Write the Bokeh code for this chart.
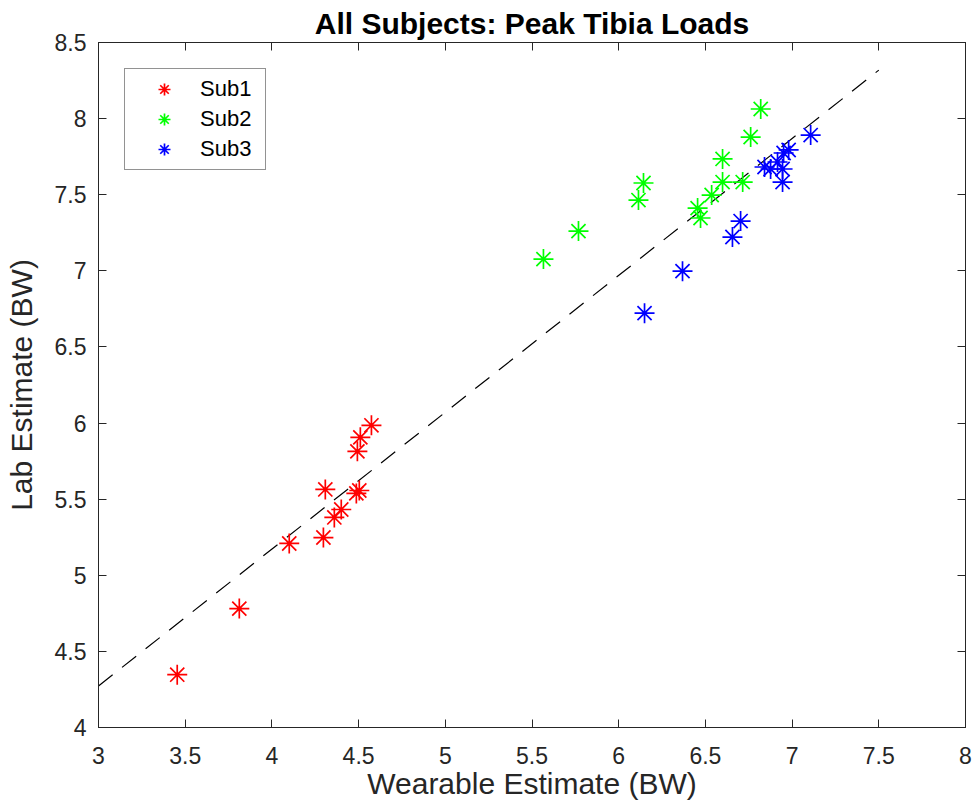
import numpy as np
from bokeh.plotting import figure
from bokeh.models import Range1d, LinearAxis, FixedTicker, CustomJSTickFormatter
from bokeh.embed import file_html
from bokeh.resources import INLINE

# ---- data ----
sub1_x = [3.454, 3.812, 4.100, 4.297, 4.308, 4.360, 4.400, 4.487, 4.504, 4.493, 4.510, 4.574]
sub1_y = [4.347, 4.781, 5.209, 5.248, 5.564, 5.380, 5.432, 5.538, 5.557, 5.814, 5.906, 5.985]

sub2_x = [5.566, 5.768, 6.114, 6.143, 6.455, 6.472, 6.536, 6.599, 6.599, 6.715, 6.761, 6.819]
sub2_y = [7.077, 7.261, 7.465, 7.577, 7.412, 7.347, 7.498, 7.583, 7.735, 7.583, 7.879, 8.063]

sub3_x = [6.149, 6.368, 6.656, 6.703, 6.841, 6.876, 6.916, 6.945, 6.945, 6.951, 6.980, 7.107]
sub3_y = [6.722, 6.998, 7.222, 7.327, 7.682, 7.669, 7.715, 7.669, 7.583, 7.774, 7.794, 7.892]

series_names = ["Sub1", "Sub2", "Sub3"]

fit_slope = 0.899
fit_intercept = 1.576
fit_x = [3.0, 7.5]

x_ticks = [3, 3.5, 4, 4.5, 5, 5.5, 6, 6.5, 7, 7.5, 8]
x_tick_labels = ["3", "3.5", "4", "4.5", "5", "5.5", "6", "6.5", "7", "7.5", "8"]
y_ticks = [4, 4.5, 5, 5.5, 6, 6.5, 7, 7.5, 8, 8.5]
y_tick_labels = ["4", "4.5", "5", "5.5", "6", "6.5", "7", "7.5", "8", "8.5"]

title_text = "All Subjects: Peak Tibia Loads"
x_label = "Wearable Estimate (BW)"
y_label = "Lab Estimate (BW)"

# ---- styling ----
FONT = "Liberation Sans"
AX = "#262626"
colors = ["#FF0000", "#00FF00", "#0000FF"]

p = figure(width=976, height=809, output_backend="svg", toolbar_location=None,
           x_range=Range1d(3, 8), y_range=Range1d(4, 8.5),
           min_border_left=98, min_border_right=11, min_border_top=42, min_border_bottom=82,
           background_fill_color="white", border_fill_color="white")
p.grid.visible = False
p.outline_line_color = AX
p.outline_line_width = 1

p.title.text = title_text
p.title.align = "center"
p.title.text_font = FONT
p.title.text_font_size = "30px"
p.title.text_font_style = "bold"
p.title.text_color = "#000000"
p.title.standoff = 6

def style_axis(ax, ticks, labels, show_labels=True):
    ax.ticker = FixedTicker(ticks=ticks)
    ax.axis_line_color = AX
    ax.axis_line_width = 1
    ax.major_tick_line_color = AX
    ax.major_tick_line_width = 1
    ax.major_tick_in = 8
    ax.major_tick_out = 0
    ax.minor_tick_line_color = None
    if show_labels:
        ax.major_label_overrides = {t: l for t, l in zip(ticks, labels)}
        ax.major_label_text_font = FONT
        ax.major_label_text_font_size = "23px"
        ax.major_label_text_color = AX
        ax.axis_label_text_font = FONT
        ax.axis_label_text_font_size = "30px"
        ax.axis_label_text_font_style = "normal"
        ax.axis_label_text_color = AX
    else:
        ax.formatter = CustomJSTickFormatter(code="return ''")
        ax.major_label_standoff = 0

xa = p.xaxis[0]
style_axis(xa, x_ticks, x_tick_labels)
xa.axis_label = x_label
xa.major_label_standoff = 19
xa.axis_label_standoff = 0

ya = p.yaxis[0]
style_axis(ya, y_ticks, y_tick_labels)
ya.axis_label = y_label
ya.major_label_standoff = 12
ya.axis_label_standoff = 14

top_ax = LinearAxis()
style_axis(top_ax, x_ticks, x_tick_labels, show_labels=False)
p.add_layout(top_ax, "above")
right_ax = LinearAxis()
style_axis(right_ax, y_ticks, y_tick_labels, show_labels=False)
p.add_layout(right_ax, "right")

# fit line
fx = np.array(fit_x)
fy = fit_slope * fx + fit_intercept
p.line(fx, fy, line_color="black", line_width=1.2, line_dash="18 12")

# scatter series
for xs, ys, name, c in zip([sub1_x, sub2_x, sub3_x], [sub1_y, sub2_y, sub3_y], series_names, colors):
    p.scatter(xs, ys, marker="asterisk", size=20, line_color=c, line_width=1.7,
              legend_label=name)

lg = p.legend[0]
lg.location = "top_left"
lg.margin = 26
lg.padding = (19, 14, 5, 5)
lg.spacing = 0
lg.glyph_height = 30
lg.glyph_width = 40
lg.label_standoff = 16
lg.label_text_font = FONT
lg.label_text_font_size = "22px"
lg.label_text_color = "#000000"
lg.border_line_color = AX
lg.border_line_width = 1
lg.background_fill_color = "white"
lg.background_fill_alpha = 1

open("out.html", "w").write(file_html(p, INLINE))
